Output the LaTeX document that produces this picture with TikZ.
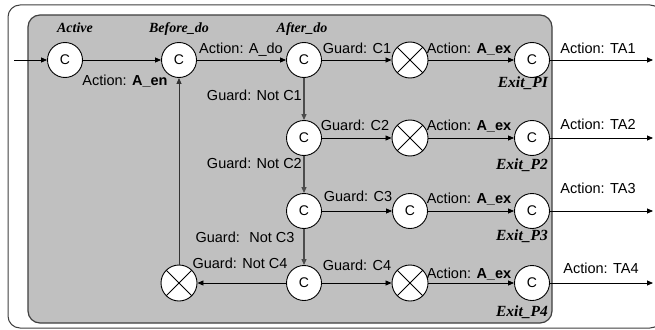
\documentclass[tikz,border=0pt]{standalone}
\usepackage{fontspec}
\setmainfont{Liberation Sans}
\newfontfamily\statefont{Liberation Serif}
\usetikzlibrary{arrows.meta}

\definecolor{panel}{HTML}{C0C0C0}
\definecolor{edgegray}{HTML}{404040}

\tikzset{
  state/.style={circle, draw=black, line width=0.9pt, fill=white,
    minimum size=35pt, inner sep=0pt, font=\fontsize{14}{14}\selectfont},
  junction/.style={circle, draw=black, line width=0.9pt, fill=white,
    minimum size=36pt, inner sep=0pt,
    path picture={\draw[line width=0.9pt]
      (path picture bounding box.north west) -- (path picture bounding box.south east)
      (path picture bounding box.north east) -- (path picture bounding box.south west);}},
  lab/.style={font=\fontsize{14.5}{14.5}\selectfont, inner sep=0pt, anchor=base},
  tag/.style={font=\statefont\bfseries\itshape\fontsize{14}{14}\selectfont,
    inner sep=0pt, anchor=base},
  exittag/.style={tag, font=\statefont\bfseries\itshape\fontsize{15.5}{15.5}\selectfont,
    anchor=base east},
  flow/.style={line width=0.8pt, draw=black, -{Triangle[length=6pt,width=5pt]}},
  down/.style={flow, draw=black!70, line width=1.2pt},
}

\begin{document}
\begin{tikzpicture}[x=1pt, y=-1pt]
  \useasboundingbox (0,0) rectangle (655,329);
  \clip (0,0) rectangle (655,329);

  % frames
  \draw[line width=1pt, draw=edgegray, fill=white, rounded corners=12pt]
    (8,5) rectangle (662,328);
  \draw[line width=1.2pt, draw=edgegray, fill=panel, rounded corners=12pt]
    (28,15) rectangle (552,323);

  % states and junctions
  \node[state] (act) at (65,60) {C};
  \node[state] (bef) at (179,60) {C};
  \node[state] (aft) at (304,60) {C};
  \node[junction] (j1) at (410,60) {};
  \node[state] (x1) at (532,60) {C};

  \node[state] (g2) at (304,138) {C};
  \node[junction] (j2) at (410,138) {};
  \node[state] (x2) at (532,138) {C};

  \node[state] (g3) at (304,211) {C};
  \node[state] (m3) at (410,211) {C};
  \node[state] (x3) at (532,211) {C};

  \node[state] (g4) at (304,283) {C};
  \node[junction] (j4) at (410,283) {};
  \node[state] (x4) at (532,283) {C};
  \node[junction] (jl) at (179,283) {};

  % free ends
  \coordinate (in) at (14,60);
  \coordinate (o1) at (653,60);
  \coordinate (o2) at (653,138);
  \coordinate (o3) at (653,211);
  \coordinate (o4) at (653,283);

  % connectors
  \draw[flow] (in) -- (act);
  \draw[flow] (act) -- (bef);
  \draw[flow] (bef) -- (aft);
  \draw[flow] (aft) -- (j1);
  \draw[flow] (j1) -- (x1);
  \draw[flow] (x1) -- (o1);

  \draw[down] (aft) -- (g2);
  \draw[flow] (g2) -- (j2);
  \draw[flow] (j2) -- (x2);
  \draw[flow] (x2) -- (o2);

  \draw[down] (g2) -- (g3);
  \draw[flow] (g3) -- (m3);
  \draw[flow] (m3) -- (x3);
  \draw[flow] (x3) -- (o3);

  \draw[down] (g3) -- (g4);
  \draw[flow] (g4) -- (j4);
  \draw[flow] (j4) -- (x4);
  \draw[flow] (x4) -- (o4);

  \draw[flow] (g4) -- (jl);
  \draw[flow, draw=black!80] (jl) -- (bef);

  % state names
  \node[tag] (tActive) at (75,33) {Active};
  \node[tag] (tBefore) at (179,33) {Before\_do};
  \node[tag] (tAfter) at (302,33) {After\_do};
  \node[exittag] (tE1) at (548,87) {Exit\_PI};
  \node[exittag] (tE2) at (548,169) {Exit\_P2};
  \node[exittag] (tE3) at (548,240) {Exit\_P3};
  \node[exittag] (tE4) at (548,316) {Exit\_P4};

  % row 1 labels
  \node[lab] (lEn) at (125,85) {Action: \textbf{A\_en}};
  \node[lab] (lDo) at (241,53) {Action: A\_do};
  \node[lab] (lG1) at (357,53) {Guard: C1};
  \node[lab] (lA1) at (469,53) {Action: \textbf{A\_ex}};
  \node[lab] (lT1) at (598,53) {Action: TA1};

  % row 2 labels
  \node[lab, anchor=base east] (lN1) at (302,100) {Guard: Not C1};
  \node[lab] (lG2) at (355,130) {Guard: C2};
  \node[lab] (lA2) at (469,130) {Action: \textbf{A\_ex}};
  \node[lab] (lT2) at (598,129) {Action: TA2};

  % row 3 labels
  \node[lab, anchor=base east] (lN2) at (302,168) {Guard: Not C2};
  \node[lab] (lG3) at (358,201) {Guard: C3};
  \node[lab] (lA3) at (469,203) {Action: \textbf{A\_ex}};
  \node[lab] (lT3) at (598,193) {Action: TA3};

  % row 4 labels
  \node[lab] (lN3) at (245,242) {Guard:~ Not C3};
  \node[lab] (lN4) at (240,268) {Guard: Not C4};
  \node[lab] (lG4) at (357,270) {Guard: C4};
  \node[lab] (lA4) at (469,278) {Action: \textbf{A\_ex}};
  \node[lab] (lT4) at (601,273) {Action: TA4};
\end{tikzpicture}
\end{document}
